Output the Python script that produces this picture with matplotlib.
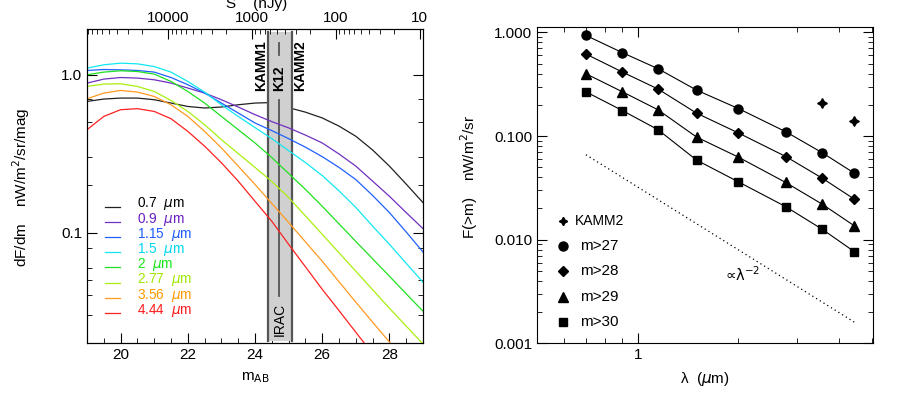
import numpy as np
import matplotlib
matplotlib.use('Agg')
import matplotlib.pyplot as plt
from matplotlib.ticker import FixedLocator, MultipleLocator, NullFormatter, FixedFormatter, LogLocator

plt.rcParams['font.family'] = ['Liberation Sans', 'DejaVu Sans']
plt.rcParams['mathtext.fontset'] = 'dejavusans'

# ---- left panel: dF/dm versus m_AB ----
m_ab = [19, 19.5, 20, 20.5, 21, 21.5, 22, 22.5, 23, 23.5, 24, 24.5, 25,
        25.5, 26, 26.5, 27, 27.5, 28, 28.5, 29]
band_names = ['0.7', '0.9', '1.15', '1.5', '2', '2.77', '3.56', '4.44']
band_colors = ['#202020', '#7030c0', '#2060ff', '#10e8f0', '#20e020', '#a8f010', '#ff9a20', '#ff2020']
label_colors = ['#000000', '#6a1fc0', '#1e5bff', '#00d8f0', '#19e619', '#a0e800', '#ff9900', '#ff1a1a']
dfdm = [
    [0.678, 0.702, 0.712, 0.712, 0.695, 0.662, 0.630, 0.616, 0.625, 0.646, 0.662, 0.667, 0.619,
     0.580, 0.533, 0.473, 0.408, 0.334, 0.264, 0.203, 0.155],
    [0.886, 0.939, 0.961, 0.953, 0.930, 0.886, 0.824, 0.766, 0.695, 0.625, 0.559, 0.505, 0.461,
     0.415, 0.370, 0.315, 0.264, 0.212, 0.170, 0.134, 0.106],
    [1.065, 1.080, 1.075, 1.065, 1.040, 0.961, 0.865, 0.766, 0.662, 0.573, 0.495, 0.443, 0.394,
     0.348, 0.303, 0.259, 0.217, 0.172, 0.134, 0.101, 0.0754],
    [1.102, 1.157, 1.185, 1.173, 1.128, 1.040, 0.907, 0.777, 0.646, 0.545, 0.463, 0.394, 0.331,
     0.278, 0.230, 0.184, 0.1445, 0.110, 0.0844, 0.064, 0.0485],
    [1.000, 1.040, 1.060, 1.049, 1.010, 0.907, 0.784, 0.662, 0.545, 0.449, 0.370, 0.299, 0.237,
     0.188, 0.147, 0.1137, 0.088, 0.0683, 0.053, 0.041, 0.0318],
    [0.844, 0.873, 0.877, 0.844, 0.784, 0.688, 0.586, 0.483, 0.388, 0.317, 0.259, 0.211, 0.167,
     0.1277, 0.0976, 0.0746, 0.057, 0.0435, 0.0332, 0.0256, 0.0197],
    [0.705, 0.766, 0.796, 0.777, 0.729, 0.646, 0.545, 0.438, 0.344, 0.264, 0.202, 0.153, 0.116,
     0.0875, 0.0659, 0.0489, 0.0363, 0.0271, 0.0203, 0.0152, 0.0113],
    [0.449, 0.545, 0.601, 0.610, 0.586, 0.527, 0.438, 0.353, 0.277, 0.212, 0.158, 0.118, 0.0844,
     0.0608, 0.0438, 0.0321, 0.0234, 0.0171, 0.0125, 0.0092, 0.0067],
]
irac_lo, irac_hi, k12 = 24.4, 25.1, 24.7
s_ticks = [10000, 1000, 100, 10]

# ---- right panel: F(>m) versus wavelength ----
lam = [0.7, 0.9, 1.15, 1.5, 2.0, 2.77, 3.56, 4.44]
f_m27 = [0.935, 0.637, 0.446, 0.277, 0.184, 0.110, 0.069, 0.0438]
f_m28 = [0.618, 0.414, 0.284, 0.166, 0.107, 0.0634, 0.0392, 0.0246]
f_m29 = [0.399, 0.267, 0.179, 0.0976, 0.0625, 0.0356, 0.0220, 0.0136]
f_m30 = [0.267, 0.176, 0.115, 0.0585, 0.0361, 0.0208, 0.0126, 0.00766]
lam_kamm2 = [3.56, 4.44]
f_kamm2 = [0.208, 0.140]
lam_ref = [0.7, 4.44]
f_ref = [0.066, 0.0016]

fig = plt.figure(figsize=(9, 4), dpi=100)
ax = fig.add_axes([0.0967, 0.1425, 0.3733, 0.785])

ax.fill_betweenx([0.0207, 1.878], irac_lo, irac_hi, color='#d0d0d0', zorder=2, lw=0)
for xv in (irac_lo, irac_hi):
    ax.plot([xv, xv], [0.0207, 1.878], color='#555555', lw=1.6, zorder=2.5)
ax.plot([k12, k12], [1.338, 1.59], color='#555555', lw=1.3, zorder=2.5)
ax.plot([k12, k12], [0.0398, 0.695], color='#555555', lw=1.3, zorder=2.5)

for i, (vals, c) in enumerate(zip(dfdm, band_colors)):
    ax.plot(m_ab, vals, color=c, lw=0.9, zorder=1.5 if i == 0 else 3)

txt_kw = dict(rotation=90, fontsize=10, fontweight='bold', ha='center', va='bottom', zorder=5)
ax.text(24.18, 0.79, 'KAMM1', **txt_kw)
ax.text(24.73, 0.79, 'K12', **txt_kw)
ax.text(25.33, 0.79, 'KAMM2', **txt_kw)
ax.text(24.73, 0.0222, 'IRAC', rotation=90, fontsize=10, ha='center', va='bottom', zorder=5)

for i, (name, c, tc) in enumerate(zip(band_names, band_colors, label_colors)):
    yl = (343 - (206.5 + 15.2 * i)) / 314
    yt = (343 - (204 + 15.2 * i)) / 314
    ax.plot([0.053, 0.097], [yl, yl], color=c, lw=0.9, transform=ax.transAxes)
    ax.text(0.148, yt, name + r'  $\mu$m', color=tc, fontsize=9.8,
            transform=ax.transAxes, va='center', ha='left')

ax.set_yscale('log')
ax.set_xlim(19, 29)
ax.set_ylim(0.02, 1.95)
ax.xaxis.set_major_locator(MultipleLocator(2))
ax.xaxis.set_minor_locator(MultipleLocator(0.5))
ax.yaxis.set_major_locator(FixedLocator([0.1, 1.0]))
ax.yaxis.set_major_formatter(FixedFormatter(['0.1', '1.0']))
ax.yaxis.set_minor_locator(FixedLocator([0.03, 0.04, 0.05, 0.06, 0.08, 0.2, 0.3, 0.5, 0.7]))
ax.yaxis.set_minor_formatter(NullFormatter())
ax.tick_params(which='both', direction='in', right=True, top=False, labelsize=11)
ax.tick_params(which='major', length=7)
ax.tick_params(which='minor', length=3.5)
ax.set_xlabel(r'm$_{\rm AB}$', fontsize=11, labelpad=6)
ax.set_ylabel(r'dF/dm    nW/m$^2$/sr/mag', fontsize=11)
ax.yaxis.set_label_coords(-0.165, 0.495)

# top axis in flux density, S = 10**((31.4 - m)/2.5) nJy
ax2 = ax.twiny()
ax2.set_xscale('log')
ax2.set_xlim(10 ** ((31.4 - 19) / 2.5), 10 ** ((31.4 - 29) / 2.5))
ax2.xaxis.set_major_locator(FixedLocator(s_ticks))
ax2.xaxis.set_major_formatter(FixedFormatter([str(s) for s in s_ticks]))
ax2.xaxis.set_minor_locator(LogLocator(base=10, subs=np.arange(2, 10)))
ax2.xaxis.set_minor_formatter(NullFormatter())
ax2.tick_params(which='both', direction='in', labelsize=11)
ax2.tick_params(which='major', length=7, pad=3)
ax2.tick_params(which='minor', length=3.5)
fig.text(226 / 900, 1 - 8 / 400, 'S    (nJy)', fontsize=11, ha='left', va='baseline')

# ---- right panel ----
bx = fig.add_axes([0.5967, 0.1418, 0.3733, 0.79])
bx.plot(lam_ref, f_ref, color='k', lw=0.9, ls=(0, (1, 2.5)))
bx.plot(lam, f_m27, 'k-', marker='o', ms=6.5, lw=0.8)
bx.plot(lam, f_m28, 'k-', marker='D', ms=5, lw=0.8)
bx.plot(lam, f_m29, 'k-', marker='^', ms=7, lw=0.8)
bx.plot(lam, f_m30, 'k-', marker='s', ms=6, lw=0.8)
bx.plot(lam_kamm2, f_kamm2, 'k', ls='none', marker=(4, 1, 0), ms=7)
bx.text(1.82, 0.0046, '\u221dλ$^{-2}$', fontsize=10.5, ha='left', va='center',
        family=['DejaVu Sans'])

leg_rows = [((4, 1, 0), 6, 'KAMM2', 0.113), ('o', 6.5, 'm>27', 0.128), ('D', 5, 'm>28', 0.128),
            ('^', 7, 'm>29', 0.128), ('s', 6, 'm>30', 0.128)]
for j, (mk, ms, lab, tx) in enumerate(leg_rows):
    yy = (343.3 - (220.7 + 25.3 * j)) / 316
    bx.plot([0.077], [yy], 'k', marker=mk, ms=ms, ls='none', transform=bx.transAxes)
    bx.text(tx, yy, lab, fontsize=10 if j == 0 else 11, ha='left', va='center', transform=bx.transAxes)

bx.set_xscale('log')
bx.set_yscale('log')
bx.set_xlim(0.5, 5.05)
bx.set_ylim(0.001, 1.12)
bx.xaxis.set_major_locator(FixedLocator([1]))
bx.xaxis.set_major_formatter(FixedFormatter(['1']))
bx.xaxis.set_minor_locator(FixedLocator([0.6, 0.7, 0.8, 0.9, 2, 3, 4, 5]))
bx.xaxis.set_minor_formatter(NullFormatter())
bx.yaxis.set_major_locator(FixedLocator([0.001, 0.01, 0.1, 1.0]))
bx.yaxis.set_major_formatter(FixedFormatter(['0.001', '0.010', '0.100', '1.000']))
bx.yaxis.set_minor_locator(LogLocator(base=10, subs=np.arange(2, 10)))
bx.yaxis.set_minor_formatter(NullFormatter())
bx.tick_params(which='both', direction='in', right=True, top=True, labelsize=11)
bx.tick_params(which='major', length=7)
bx.tick_params(which='minor', length=3.5)
bx.set_xlabel('λ  ($\\mu$m)', fontsize=11, labelpad=6)
bx.set_ylabel(r'F(>m)    nW/m$^2$/sr', fontsize=11)
bx.yaxis.set_label_coords(-0.17, 0.526)

fig.savefig('out.png', dpi=100)
